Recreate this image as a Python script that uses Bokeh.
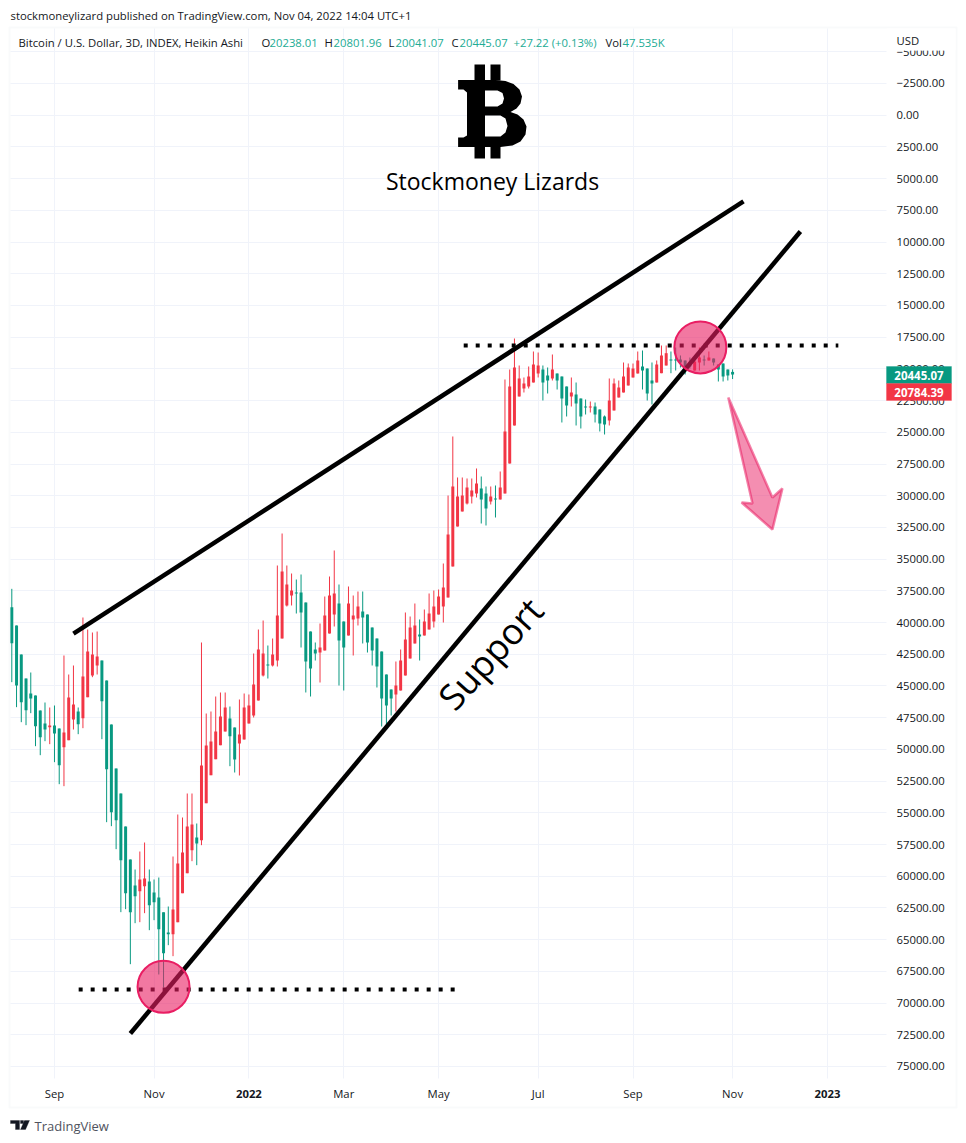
from bokeh.plotting import figure
from bokeh.embed import file_html
from bokeh.resources import INLINE
from bokeh.models import Range1d, FixedTicker, Label, PolyAnnotation
from bokeh.core.properties import value

# Heikin Ashi candles, 3D (prices; the axis is inverted)
wick_low = [37342,40233,42519,44411,43938,45751,46934,46303,46697,46540,
            48353,42598,44096,43386,46697,39602,40548,40784,40706,42992,
            44569,48038,51507,53478,56079,58681,59470,58050,57341,59470,
            60258,60100,62859,62387,58445,55133,55370,53478,53478,55843,
            41573,47171,47013,45830,45515,45515,46619,48274,46066,45593,
            45672,42440,40548,39838,41809,41257,35502,32979,35502,36133,
            36606,36211,38419,40705,41572,40075,37946,36369,34319,37000,
            39917,37157,37867,37552,37552,39365,40390,41257,42282,44095,
            45278,43070,42124,39207,39523,38498,39759,38971,37709,37473,
            37394,35344,29983,25331,28563,28563,28642,28642,27854,28485,
            29273,29273,29194,28090,20837,20049,17605,19733,20679,19812,
            18630,18708,19733,19891,18866,20364,20601,21389,20679,21074,
            22335,22414,22572,22650,23202,23675,20758,20758,20916,19497,
            19576,19576,18630,18551,19970,19497,19339,18157,18157,18630,
            18315,18945,19340,19103,18945,18315,18945,18630,19182,19655,
            19576,20050,20041]
body_low = [38787,40233,42519,44411,45594,45751,46934,47959,48117,48117,
            48353,48668,45909,46461,47013,44253,42282,42519,42677,42992,
            44569,48038,51507,53478,56079,58681,60731,60258,60179,60416,
            61283,61677,62833,64436,62623,58997,58129,56079,55922,56947,
            51270,49693,49378,48590,47407,46697,47565,48274,48826,46697,
            46539,44884,42124,42440,43307,42519,39444,35975,37000,37473,
            37630,37630,38419,40705,42124,41967,39444,37867,37709,38498,
            39917,38498,39444,38734,39128,39365,40390,41257,42282,44095,
            45278,44963,42992,41336,40390,40232,40942,39917,39286,38734,
            37946,37236,33058,29273,30061,29983,29352,29588,29037,29431,
            29825,30061,30219,29352,24937,21389,19891,20758,21153,20601,
            19655,19733,20049,20522,20049,20364,20601,21389,21862,22020,
            22335,22966,22966,22966,23202,23754,22493,21153,21468,20601,
            19891,19970,19339,19812,19970,20916,19655,18945,18764,19261,
            19261,19261,19340,19576,19419,19103,19261,19103,19182,19655,
            19576,20050,20238]
body_high = [41625,44963,46277,46908,45988,48169,49036,48432,48248,48747,
             51244,49825,49273,47644,48011,47538,45883,44175,43386,46198,
             51559,54949,55580,58734,61335,62833,61572,61178,60784,62282,
             62045,64174,66066,64568,64568,63622,61335,59759,57945,57420,
             57157,54240,52032,50771,49667,48590,48958,50797,49535,49220,
             47959,47328,46145,44174,43386,43386,42992,41257,38655,37867,
             37709,39207,43070,43622,42440,42361,42203,40863,39365,41415,
             41967,41021,39759,39680,39601,41572,42203,43465,45988,46539,
             45988,45672,45357,44174,42834,41651,41099,41021,40548,39917,
             39365,38734,38025,35580,32427,31244,30613,30061,29825,30298,
             31008,30456,30298,30298,29825,27460,24464,22177,21547,21389,
             21074,20364,21074,20916,20758,20916,22335,22887,22177,22729,
             23754,23045,23045,23597,24306,24385,24070,23281,22256,21862,
             21310,20679,20364,20128,21941,21153,21074,20341,19734,19340,
             19340,19497,19813,19813,20128,19497,19340,19340,19497,20050,
             20601,20522,20445]
wick_high = [44700,46671,47854,48090,47144,49746,50456,49352,49588,51007,
             52742,52900,49273,48432,48800,48327,45883,44306,44096,49194,
             55738,56053,57866,62833,62597,66933,63701,63622,62912,64253,
             63464,67747,68772,65435,66302,63622,61335,59759,58813,59128,
             57551,54240,52032,50771,49667,48590,51323,51822,52058,49220,
             47959,47485,46145,44253,44411,43465,43465,41257,38734,38655,
             39286,41967,45514,45830,42992,44726,42203,40863,40311,44963,
             45357,41021,42597,40232,41651,42361,43386,45120,48195,48037,
             47328,47012,45357,44174,42834,41651,42992,41021,40548,40390,
             39365,39996,38025,35580,32427,31244,30692,30613,30140,32190,
             32348,30692,31717,30298,29825,27460,24464,22177,21862,21547,
             21074,20679,22493,21941,20916,21626,24227,23754,22966,24464,
             24700,23597,23439,24227,24937,25173,24464,23281,22256,21862,
             21310,20679,20364,21626,22493,22808,21074,20341,19734,20341,
             20128,19892,20443,19971,20128,20128,19734,19340,19734,20995,
             20995,20916,20801]
candle_color = ("GGGGGGGG" "R" "GG" "RRR" "G" "RRRR" "GGGGGGGG" "RR" "GGGGG" "RRRRR" "G"
                "RRRRRR" "GG" "RRRRRR" "G" "RRRRR" "GGGGG" "RRRR" "GG" "RRR" "GGGGGGG"
                "RRRRR" "G" "RRRRRRRRRRRR" "GG" "R" "G" "RRRRRRRRR" "GG" "R" "GGG" "R"
                "GGG" "R" "GGG" "RRRRRRR" "GGG" "RRR" "GGGGG" "RR" "G" "R" "GGGGG")

price_ticks = list(range(-5000, 75001, 2500))
time_ticks = [9, 30, 50, 70, 90, 111, 131, 152, 172]
time_labels = ["Sep", "Nov", " ", "Mar", "May", "Jul", "Sep", "Nov", " "]
year_ticks = [50, 172]
year_labels = ["2022", "2023"]

# Drawn annotations: bar number and price
wedge_x, wedge_y = [13.0, 154.3], [40870, 6790]
support_x, support_y = [25.0, 166.3], [72400, 9170]
res_top_x, res_top_y = [95.3, 174.3], [18160, 18160]
res_low_x, res_low_y = [14.1, 93.6], [68930, 68930]
circle_x, circle_y = [32.0, 145.2], [68720, 18310]
arrow_x = [151.1, 160.4, 162.5, 160.4, 153.9, 156.2]
arrow_y = [22260, 30140, 29430, 32660, 30530, 30610]

# Bitcoin logo outline (page pixels)
logo_outer = [(457.6, 79.5), (495, 79.5), (505, 80.5), (513, 83.5), (519, 89), (521.5, 96),
              (520, 103), (516, 108), (510, 111.5), (517, 114), (523, 119), (526, 126),
              (525, 134), (520, 141), (512, 145), (500, 146.5), (457.6, 146.5), (457.6, 137),
              (463, 137), (466.5, 135), (466.5, 92), (463, 89), (457.6, 89)]
logo_upper_hole = [(484.5, 90), (497, 90), (502, 92.5), (503.5, 98), (502, 103), (497, 106), (484.5, 106)]
logo_lower_hole = [(484.5, 115), (500, 115), (505, 118), (507, 125.5), (505, 132), (500, 136), (484.5, 136)]
logo_stems = [(474, 484.5, 64, 80), (490, 500, 64, 80), (474, 484.5, 146, 158), (490, 500, 146, 158)]

GREEN, RED, PINK = "#089981", "#F23645", "#E91E63"
INK, GRID = "#131722", "#F0F3FA"
FONT = "Open Sans"
W, H = 966, 1143
STEP, ORIGIN = 4.742, 11.3          # pixels per bar, pixel of bar 0
PXP, ZERO = 78.84, 114.7            # price per pixel, pixel of price 0


def px_x(i):
    return ORIGIN + i * STEP


def bar_of(px):
    return (px - ORIGIN) / STEP


def price_of(py):
    return (py - ZERO) * PXP


x = list(range(len(wick_low)))
colors = [GREEN if c == "G" else RED for c in candle_color]

p = figure(width=W, height=H, output_backend="svg", toolbar_location=None,
           x_range=Range1d(bar_of(0), bar_of(W)), y_range=Range1d(price_of(H), price_of(0)),
           y_axis_location="right", min_border=0, min_border_left=0, min_border_right=0,
           min_border_top=0, min_border_bottom=0, background_fill_color="white")
p.outline_line_color = None

p.xaxis.fixed_location = price_of(1078)
p.yaxis.fixed_location = bar_of(886)
p.xaxis.ticker = FixedTicker(ticks=time_ticks)
p.xaxis.major_label_overrides = dict(zip(time_ticks, time_labels))
p.yaxis.ticker = FixedTicker(ticks=price_ticks)
p.yaxis.major_label_overrides = {t: f"{t:.2f}".replace("-", "\u2212") for t in price_ticks}
for ax in (p.xaxis, p.yaxis):
    ax.axis_line_color = None
    ax.major_tick_line_color = None
    ax.minor_tick_line_color = None
    ax.major_label_text_font = FONT
    ax.major_label_text_font_size = "11.3px"
    ax.major_label_text_color = INK
p.yaxis.major_label_standoff = 4
p.xaxis.major_label_standoff = 1
p.xgrid.grid_line_color = GRID
p.ygrid.grid_line_color = GRID
p.xgrid.cross_bounds = (price_of(1078), price_of(28))
p.ygrid.cross_bounds = (bar_of(10), bar_of(886))

p.segment(x, wick_low, x, wick_high, color=colors, line_width=1)
p.vbar(x=x, width=0.63, bottom=body_low, top=body_high, fill_color=colors, line_color=None)

p.line(wedge_x, wedge_y, color="black", line_width=4.5)
p.line(support_x, support_y, color="black", line_width=4.5)
p.line(res_top_x, res_top_y, color="black", line_width=4, line_dash="4 8")
p.line(res_low_x, res_low_y, color="black", line_width=4, line_dash="4 8")
p.scatter(circle_x, circle_y, size=52, fill_color=PINK, fill_alpha=0.6,
          line_color=PINK, line_width=2)
p.patch(arrow_x, arrow_y, fill_color=PINK, fill_alpha=0.5, line_color=PINK,
        line_alpha=0.55, line_width=2.5)

p.text([bar_of(490)], [price_of(653)], text=["Support"], angle=48, angle_units="deg",
       text_align="center", text_baseline="middle", text_font=value(FONT),
       text_font_size="36px", text_color="black")
p.text([bar_of(492)], [price_of(180)], text=["Stockmoney Lizards"], text_align="center",
       text_baseline="middle", text_font=value(FONT), text_font_size="23px",
       text_color="black")


def ring(points):
    return [bar_of(a) for a, _ in points], [price_of(b) for _, b in points]


outer_x, outer_y = ring(logo_outer)
hole1_x, hole1_y = ring(logo_upper_hole)
hole2_x, hole2_y = ring(logo_lower_hole)
p.multi_polygons(xs=[[[outer_x, hole1_x, hole2_x]]], ys=[[[outer_y, hole1_y, hole2_y]]],
                 fill_color="black", line_color=None)
p.quad(left=[bar_of(s[0]) for s in logo_stems], right=[bar_of(s[1]) for s in logo_stems],
       top=[price_of(s[2]) for s in logo_stems], bottom=[price_of(s[3]) for s in logo_stems],
       fill_color="black", line_color=None)


def label(text, px, py, size, color=INK, bold=False, align="left"):
    p.add_layout(Label(x=px, y=H - py, x_units="screen", y_units="screen", text=text,
                       text_font=FONT, text_font_size=size, text_color=color,
                       text_align=align, text_baseline="middle",
                       text_font_style="bold" if bold else "normal"))


def poly(xs, ys, fill="white", line="white", width=1, fill_alpha=1.0):
    p.add_layout(PolyAnnotation(xs=xs, ys=[H - v for v in ys],
                                xs_units="screen", ys_units="screen",
                                fill_color=fill, fill_alpha=fill_alpha,
                                line_color=line, line_width=width))


poly([9, 956, 956, 9], [27, 27, 1107, 1107], line="#ECEDF3", width=2, fill_alpha=0.0)
poly([886, 955, 955, 886], [28, 28, 50, 50])
poly([886, 951, 951, 886], [366, 366, 383, 383], fill=GREEN, line=GREEN)
poly([886, 951, 951, 886], [383, 383, 400, 400], fill=RED, line=RED)

label("USD", 896, 40, "11.3px")
label("20445.07", 918.5, 374.5, "11.5px", "white", True, "center")
label("20784.39", 918.5, 391.5, "11.5px", "white", True, "center")

label("stockmoneylizard published on TradingView.com, Nov 04, 2022 14:04 UTC+1", 10, 15, "11.3px")
label("Bitcoin / U.S. Dollar, 3D, INDEX, Heikin Ashi", 18, 42, "11.3px")
VAL = "#22AB94"
for txt, px, col in [("O", 261, INK), ("20238.01", 269, VAL), ("H", 324, INK), ("20801.96", 333, VAL),
                     ("L", 388, INK), ("20041.07", 395, VAL), ("C", 451, INK), ("20445.07", 459, VAL),
                     ("+27.22 (+0.13%)", 513, VAL), ("Vol", 605, INK), ("47.535K", 622, VAL)]:
    label(txt, px, 42, "11.3px", col)

for t, s in zip(year_ticks, year_labels):
    label(s, px_x(t), 1093, "11.3px", INK, True, "center")

# TradingView mark and word
poly([10, 19, 19, 15, 15, 10], [1120, 1120, 1129, 1129, 1123, 1123], fill=INK, line=INK)
poly([20, 23, 23, 20], [1120, 1120, 1123, 1123], fill=INK, line=INK)
poly([24, 29, 25, 20], [1120, 1120, 1129, 1129], fill=INK, line=INK)
label("TradingView", 34, 1125, "13px", "#50535E")

open("out.html", "w").write(file_html(p, INLINE))
